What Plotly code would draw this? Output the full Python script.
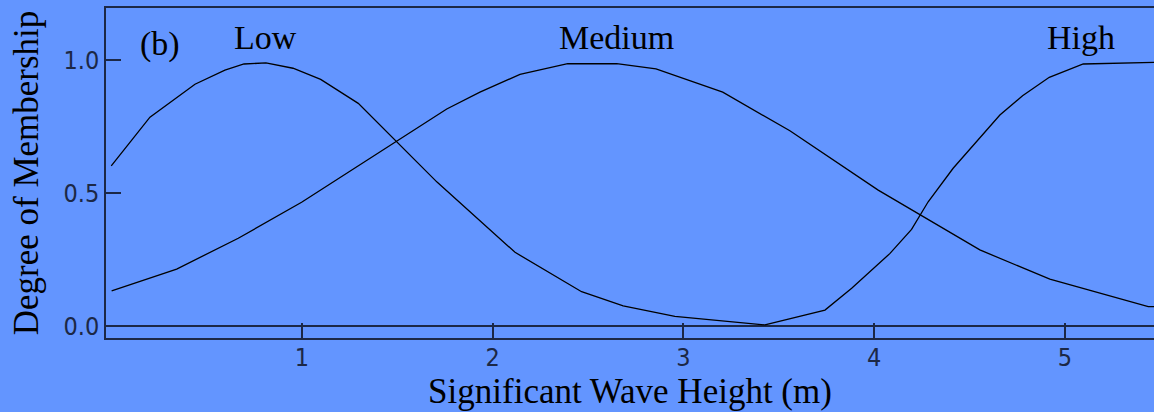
import plotly.graph_objects as go

# Membership curves (x in m, y = degree of membership)
low_x = [0.0, 0.203, 0.439, 0.596, 0.696, 0.811, 0.953, 1.098, 1.295, 1.708, 2.117, 2.466, 2.684, 2.955, 3.427]
low_y = [0.602, 0.785, 0.909, 0.962, 0.985, 0.989, 0.969, 0.927, 0.837, 0.541, 0.277, 0.129, 0.076, 0.036, 0.004]

med_x = [0.002, 0.343, 0.666, 0.998, 1.759, 1.933, 2.143, 2.393, 2.650, 2.856, 3.206, 3.558, 4.021, 4.554, 4.921, 5.437, 5.467]
med_y = [0.132, 0.214, 0.330, 0.465, 0.816, 0.879, 0.946, 0.986, 0.986, 0.967, 0.879, 0.734, 0.511, 0.286, 0.176, 0.073, 0.073]

high_x = [3.427, 3.742, 3.882, 4.083, 4.196, 4.283, 4.414, 4.537, 4.659, 4.778, 4.918, 5.096, 5.467]
high_y = [0.004, 0.060, 0.142, 0.273, 0.363, 0.467, 0.593, 0.693, 0.793, 0.866, 0.935, 0.985, 0.991]

x_ticks = [1, 2, 3, 4, 5]
y_ticks = [0.0, 0.5, 1.0]

labels = ["(b)", "Low", "Medium", "High"]
label_x = [0.256, 0.811, 2.651, 5.084]
label_y = [1.06, 1.086, 1.086, 1.086]

BG = "rgb(99,149,255)"
AX = "#1c2846"

fig = go.Figure()
for xs, ys in [(low_x, low_y), (med_x, med_y), (high_x, high_y)]:
    fig.add_trace(go.Scatter(x=xs, y=ys, mode="lines",
                             line=dict(color="black", width=1.3),
                             showlegend=False, hoverinfo="skip"))

for t, xv, yv in zip(labels, label_x, label_y):
    fig.add_annotation(x=xv, y=yv, xref="x", yref="y", text=t, showarrow=False,
                       font=dict(family="Liberation Serif, Times New Roman, serif", size=34, color="black"),
                       xanchor="center", yanchor="middle")

tickfont = dict(family="DejaVu Sans Condensed, Liberation Sans Narrow, Arial Narrow, sans-serif",
                size=25, color=AX)
titlefont = dict(family="Liberation Serif, Times New Roman, serif", size=35, color="black")

fig.update_layout(
    width=1154, height=412,
    margin=dict(l=106, r=0, t=8, b=74, pad=0),
    paper_bgcolor=BG, plot_bgcolor=BG,
    xaxis=dict(range=[-0.0275, 5.467], tickvals=x_ticks, ticktext=[str(v) for v in x_ticks],
               showgrid=False, zeroline=False,
               showline=True, linecolor=AX, linewidth=1.5, mirror=True,
               ticks="inside", ticklen=15, tickwidth=1.5, tickcolor=AX,
               tickfont=tickfont, ticklabelstandoff=-4,
               title=dict(text="Significant Wave Height (m)", font=titlefont, standoff=2)),
    yaxis=dict(range=[-0.0451, 1.1955], tickvals=y_ticks, ticktext=[f"{v:.1f}" for v in y_ticks],
               showgrid=False,
               zeroline=True, zerolinecolor=AX, zerolinewidth=1.5,
               showline=True, linecolor=AX, linewidth=1.5,
               ticks="inside", ticklen=15, tickwidth=1.5, tickcolor=AX,
               tickfont=tickfont,
               title=dict(text="Degree of Membership", font=titlefont, standoff=14)),
)

fig.write_html("out.html")
